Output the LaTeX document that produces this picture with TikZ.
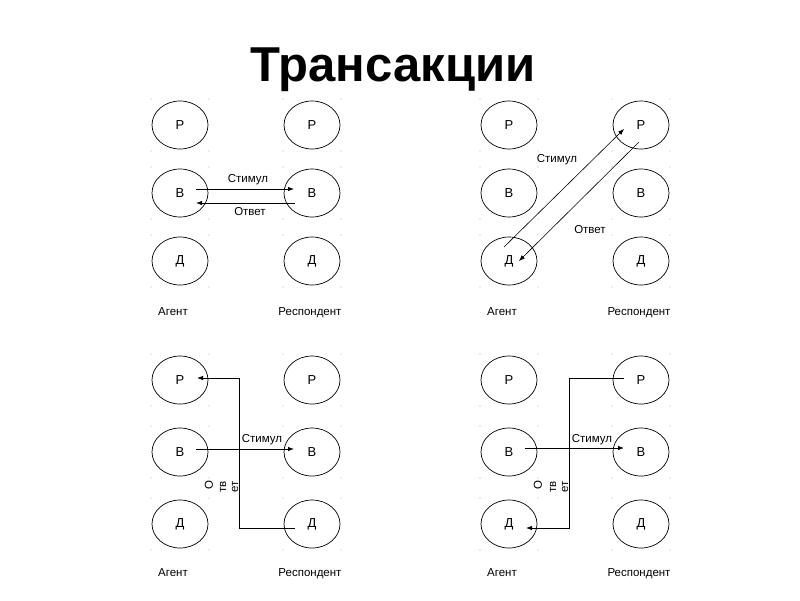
\documentclass[tikz,border=0pt]{standalone}
\usepackage{fontspec}
\setmainfont{Liberation Sans}
\usetikzlibrary{shapes.geometric,arrows.meta,calc}
\tikzset{
  ego/.style={ellipse,draw,line width=0.7pt,minimum width=56pt,minimum height=48pt,inner sep=0pt,font=\fontsize{13}{13}\selectfont},
  lbl/.style={font=\fontsize{11.5}{11.5}\selectfont,inner sep=0pt},
  bl/.style={lbl,anchor=base},
  vert/.style={lbl,rotate=90},
  arr/.style={line width=0.8pt,-{Latex[length=6pt,width=4.5pt]}},
  cdot/.style={fill=black!30,draw=none},
}
\newcommand\mypanel[6]{%
  % #1 prefix, #2 left x, #3 right x, #4 row1, #5 row2, #6 row3
  \node[ego] (#1aP) at (#2,#4) {Р};
  \node[ego] (#1aB) at (#2,#5) {В};
  \node[ego] (#1aD) at (#2,#6) {Д};
  \node[ego] (#1rP) at (#3,#4) {Р};
  \node[ego] (#1rB) at (#3,#5) {В};
  \node[ego] (#1rD) at (#3,#6) {Д};
  \foreach \cx in {#2,#3}{
    \foreach \cy in {#4,#5,#6}{
      \foreach \dx/\dy in {-29/-26,29/-26,-29/26,29/26}{
        \fill[cdot] (\cx+\dx,\cy+\dy) circle (0.6pt);
      }
    }
  }
}
\begin{document}
\begin{tikzpicture}[x=1pt,y=-1pt]
\useasboundingbox (0,0) rectangle (800,600);
\node[font=\fontsize{49}{49}\selectfont\bfseries,inner sep=0pt,anchor=base] (title) at (393,81) {Трансакции};

% ---------- top left ----------
\mypanel{tl}{180}{312}{125}{193}{261}
\node[bl] (tlag) at (173,315) {Агент};
\node[bl] (tlre) at (310,315) {Респондент};
\coordinate (tls1) at ($(tlaB)+(16,-4)$);
\coordinate (tls2) at ($(tlrB)+(-18,-4)$);
\coordinate (tlo1) at ($(tlrB)+(-17,10)$);
\coordinate (tlo2) at ($(tlaB)+(16,10)$);
\draw[arr] (tls1) -- (tls2);
\draw[arr] (tlo1) -- (tlo2);
\node[lbl] (tlst) at (248,180) {Стимул};
\node[lbl] (tlot) at (250,212) {Ответ};

% ---------- top right ----------
\mypanel{tr}{509}{641}{125}{193}{261}
\node[bl] (trag) at (502,315) {Агент};
\node[bl] (trre) at (639,315) {Респондент};
\coordinate (trs1) at ($(traD)+(-5,-14)$);
\coordinate (trs2) at ($(trrP)+(-17,4)$);
\coordinate (tro1) at ($(trrP)+(-2,17)$);
\coordinate (tro2) at ($(traD)+(10,0)$);
\draw[arr,line width=0.6pt] (trs1) -- (trs2);
\draw[arr,line width=0.6pt] (tro1) -- (tro2);
\node[lbl] (trst) at (557,160) {Стимул};
\node[lbl] (trot) at (590,230) {Ответ};

% ---------- bottom left ----------
\mypanel{bl}{180}{312}{380}{452}{524}
\node[bl] (blag) at (173,576) {Агент};
\node[bl] (blre) at (310,576) {Респондент};
\coordinate (bls1) at ($(blaB)+(16,-3)$);
\coordinate (bls2) at ($(blrB)+(-18,-3)$);
\coordinate (blo1) at ($(blrD)+(-17,4)$);
\coordinate (blo2) at ($(blaP)+(17,-2)$);
\draw[arr] (bls1) -- (bls2);
\draw[arr] (blo1) -- (239,528) -- (239,378) -- (blo2);
\node[lbl] (blst) at (262,440) {Стимул};
\node[vert] (blo) at (209,485) {О};
\node[vert] (bltv) at (223,487) {тв};
\node[vert] (blet) at (235,487) {ет};

% ---------- bottom right ----------
\mypanel{br}{509}{641}{380}{452}{524}
\node[bl] (brag) at (502,576) {Агент};
\node[bl] (brre) at (639,576) {Респондент};
\coordinate (brs1) at ($(braB)+(16,-4)$);
\coordinate (brs2) at ($(brrB)+(-17,-4)$);
\coordinate (bro1) at ($(brrP)+(-17,-2)$);
\coordinate (bro2) at ($(braD)+(17,4)$);
\draw[arr] (brs1) -- (brs2);
\draw[arr] (bro1) -- (569,378) -- (569,528) -- (bro2);
\node[lbl] (brst) at (592,440) {Стимул};
\node[vert] (bro) at (538,485) {О};
\node[vert] (brtv) at (553,487) {тв};
\node[vert] (bret) at (565,487) {ет};
\end{tikzpicture}
\end{document}
